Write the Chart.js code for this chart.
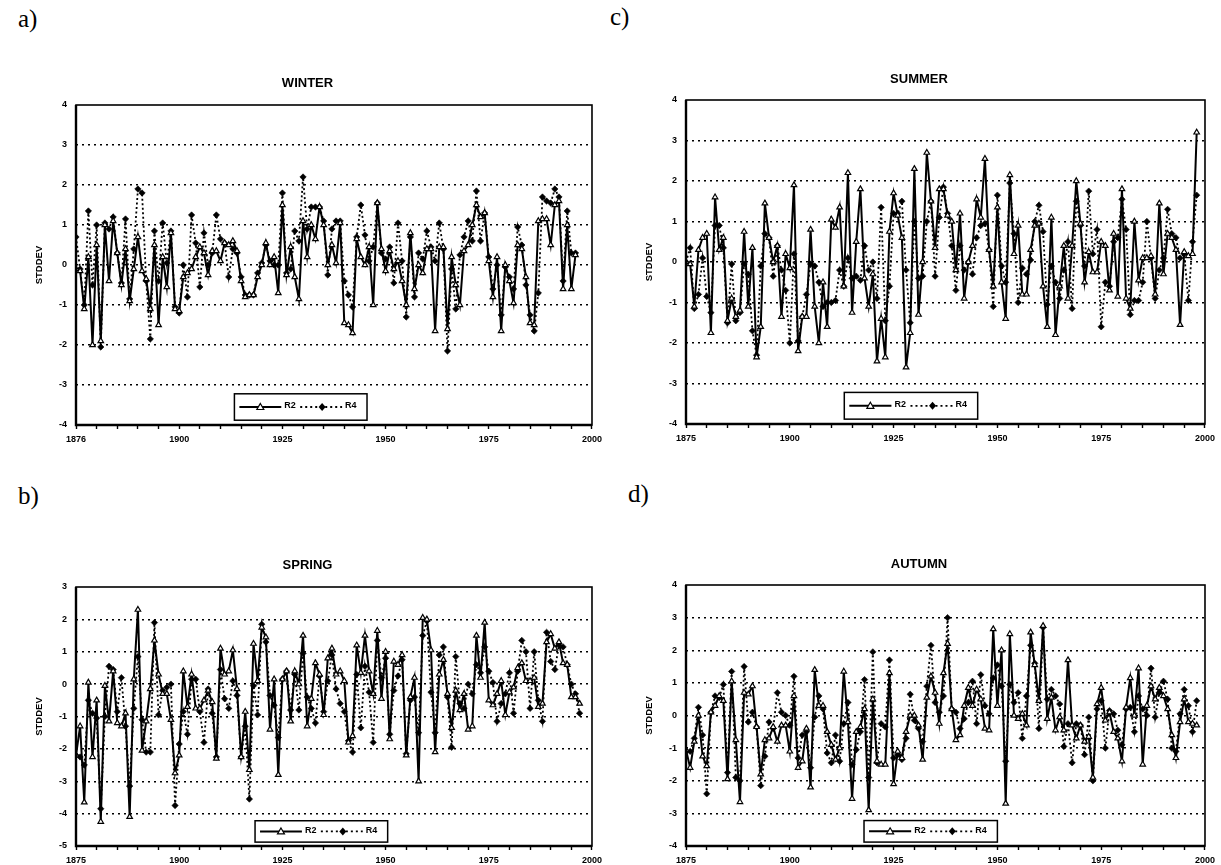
<!DOCTYPE html>
<html>
<head>
<meta charset="utf-8">
<script src="https://cdn.jsdelivr.net/npm/chart.js@4.4.0/dist/chart.umd.min.js"></script>
<style>
body { margin: 0; background: #fff; width: 1221px; height: 865px; overflow: hidden; position: relative; }
.letra { position: absolute; font-family: "Liberation Serif", serif; font-size: 25px; color: #000; }
.panel { position: absolute; }
</style>
</head>
<body>
<div class="letra" style="left:18px;top:5px">a)</div>
<div class="letra" style="left:610px;top:3px">c)</div>
<div class="letra" style="left:18px;top:482px">b)</div>
<div class="letra" style="left:628px;top:480px">d)</div>

<script>
// años: todas las series empiezan en 1875, un valor por año
var anioInicio = 1875;
var nombresSeries = ['R2', 'R4'];
var ticksNormal = ['1875', '1900', '1925', '1950', '1975', '2000'];
var ticksInvierno = ['1876', '1900', '1925', '1950', '1975', '2000'];

var winterR2 = [
  -0.1, -0.15, -1.1, 0.2, -2.0, 0.5, -1.9, 1.0, -0.4, 1.1,
  0.3, -0.5, 0.4, -0.9, -0.1, 0.7, -0.15, -0.35, -1.1, 0.5,
  -1.5, 0.2, -0.55, 0.8, -1.1, -1.15, -0.3, -0.2, -0.1, 0.2,
  0.45, 0.3, -0.25, 0.35, 0.35, 0.1, 0.55, 0.5, 0.6, 0.35,
  -0.4, -0.8, -0.75, -0.75, -0.3, 0.0, 0.55, 0.0, 0.2, -0.7,
  1.5, -0.25, 0.45, -0.3, -0.85, 1.1, 0.2, 1.0, 0.65, 1.45,
  1.0, 0.0, 0.5, 0.05, 1.05, -1.45, -1.5, -1.7, 0.65, 0.2,
  0.0, 0.45, -1.0, 1.55, 0.4, -0.15, 0.35, -0.1, 0.1, -0.4,
  -1.0, 0.8, -0.6, 0.0, -0.2, 0.4, 0.4, -1.65, 0.45, 0.45,
  -1.6, 0.2, -0.5, -1.0, 0.35, 0.5, 1.0, 1.5, 1.2, 1.3,
  0.1, -0.8, 0.2, -1.65, 0.0, -0.4, -0.95, 0.5, 0.4, -0.3,
  -1.45, -1.5, 1.1, 1.15, 1.15, 0.5, 1.5, 1.6, -0.6, 1.0,
  -0.6, 0.25
];
var winterR4 = [
  0.7, -0.1, -1.0, 1.35, -0.5, 1.0, -2.05, 1.05, 0.9, 1.2,
  0.3, -0.45, 1.15, -0.85, 0.4, 1.9, 1.8, -0.4, -1.85, 0.85,
  -0.4, 1.05, 0.05, 0.85, -1.05, -1.2, 0.0, -0.8, 1.25, 0.55,
  -0.55, 0.8, 0.0, 0.3, 1.25, 0.65, 0.55, -0.3, 0.4, 0.3,
  -0.3, -0.75, -0.75, -0.75, -0.2, 0.05, 0.5, 0.1, 0.0, 0.0,
  1.8, -0.2, -0.1, 0.85, 0.6, 2.2, 0.9, 1.45, 1.45, 1.45,
  1.1, -0.25, 0.9, 1.1, 1.1, -0.4, -0.75, -1.05, 0.7, 1.5,
  0.75, 0.1, 0.45, 1.55, 0.3, 0.15, 0.45, -0.45, 1.05, 0.1,
  -1.3, 0.7, -0.8, 0.3, 0.15, 0.85, 0.45, 0.1, 1.05, 0.4,
  -2.15, -0.1, -1.1, 0.25, 0.7, 1.1, 0.6, 1.85, 0.6, 1.3,
  0.2, -0.6, 0.0, -1.25, -0.05, -0.3, -0.6, 0.95, 0.5, -0.5,
  -1.25, -1.65, -0.7, 1.7, 1.6, 1.55, 1.9, 1.7, -0.4, 1.35,
  0.3, 0.3
];

var summerR2 = [
  0.0, -0.05, -1.1, 0.3, 0.6, 0.7, -1.75, 1.6, 0.3, 0.6,
  -1.45, -0.9, -1.35, -1.2, 0.75, -1.1, 0.35, -2.35, -1.6, 1.45,
  0.6, 0.0, 0.4, -1.35, 0.2, -0.15, 1.9, -2.2, -1.35, -1.35,
  0.8, -1.1, -2.0, -0.5, -1.6, 1.05, 0.85, 1.35, -0.6, 2.2,
  -1.25, 0.5, 1.8, -0.4, -1.1, -0.3, -2.45, -1.4, -2.35, 0.75,
  1.7, 1.15, 0.6, -2.6, -1.75, 2.3, -1.3, 0.0, 2.7, 1.5,
  0.35, 1.8, 1.8, 1.15, 1.0, -0.2, 1.2, -0.9, 0.0, 0.4,
  1.55, 1.1, 2.55, 0.3, -0.6, 1.35, -0.5, -1.4, 2.15, 0.2,
  0.9, -0.8, -0.8, 0.3, 0.9, 0.95, -0.6, -1.6, 1.1, -1.8,
  -0.6, 0.4, -0.9, 0.4, 2.0, 0.95, -0.5, 0.25, -0.25, -0.25,
  0.5, 0.4, -0.7, 0.7, -0.85, 1.8, -0.9, -1.15, 1.0, -0.45,
  0.1, 0.1, 0.15, -0.8, 1.45, -0.3, 0.7, 0.6, 0.3, -1.55,
  0.25, 0.15, 0.2, 3.2
];
var summerR4 = [
  0.0, 0.35, -1.15, -0.8, 0.1, -0.85, -1.25, 0.9, 0.9, 0.35,
  -1.5, -0.05, -1.45, -1.25, -0.05, -0.3, -1.7, -2.3, -0.1, 0.7,
  0.6, -0.35, 0.4, -0.2, -0.7, -2.0, 0.2, -1.95, -1.35, -0.8,
  -0.05, -0.1, -0.5, -1.1, -1.0, -1.0, -0.95, -0.2, -0.6, 0.1,
  -0.4, -0.35, -0.45, 0.4, -0.2, 0.0, -0.9, 1.35, -1.45, -0.6,
  1.2, 1.2, 1.5, -0.2, -1.5, 1.0, -0.4, -0.35, 1.0, 1.5,
  -0.35, 1.1, 1.85, 1.2, 0.4, -0.7, 0.4, -0.2, 0.0, -0.3,
  0.6, 0.9, 0.95, 0.3, -1.1, 1.65, -0.1, -0.5, 1.95, 0.7,
  -1.0, -0.15, -0.3, 0.05, 1.0, 1.4, 0.75, -1.05, -0.1, -0.5,
  -0.9, -0.2, 0.5, -1.15, 1.5, 0.9, -0.1, 1.75, 0.2, 0.8,
  -1.6, -0.5, -0.6, 0.5, 0.6, 1.55, 0.8, -1.3, -0.95, -0.95,
  -0.5, 1.0, 0.1, -0.9, -0.2, 0.1, 1.3, 0.7, 0.6, 0.1,
  0.2, -0.95, 0.5, 1.65
];

var springR2 = [
  -2.2, -1.3, -3.65, 0.05, -2.25, -0.5, -4.25, -0.05, -1.15, 0.4,
  -1.2, -1.3, -0.9, -4.1, 0.15, 2.3, -2.05, -1.15, -0.15, 1.35,
  0.3, -0.3, -0.3, -1.1, -2.75, -2.2, 0.4, -0.7, 0.3, -0.75,
  -0.75, -0.5, -0.2, -0.55, -2.3, 1.1, 0.3, 0.4, 1.05, -0.15,
  -2.25, -0.85, -2.65, 1.25, 0.1, 1.75, 1.45, -1.4, 0.15, -2.8,
  0.15, 0.4, -1.15, 0.4, 0.0, 1.5, -1.3, -0.45, 0.65, 0.3,
  -0.95, 0.8, 1.1, 0.3, 0.4, 0.1, -1.8, -1.6, 1.2, 0.35,
  1.5, 0.4, -0.3, 1.65, -0.45, 1.0, -1.7, 0.7, 0.6, 0.9,
  -2.2, -0.4, 0.2, -3.0, 2.05, 2.0, 1.05, -2.1, 0.3, 0.75,
  -0.3, -1.35, -0.2, -0.8, -0.3, -1.4, -1.3, 1.5, 0.2, 1.9,
  -0.5, -0.65, -0.3, 0.1, -0.95, -0.25, -0.1, 0.5, 0.65, 0.1,
  0.1, 0.2, -0.7, -0.6, 1.3, 1.55, 1.1, 1.3, 0.65, 0.6,
  -0.4, -0.4, -0.6
];
var springR4 = [
  -2.2, -2.25, -2.5, -0.5, -0.9, -1.05, -3.85, -1.0, 0.55, 0.45,
  -0.85, 0.2, -1.3, -3.15, -0.75, 0.85, -1.1, -2.1, -2.1, 1.9,
  -0.95, -0.2, -0.1, 0.0, -3.75, -1.85, -0.85, -1.55, 0.15, 0.15,
  -0.85, -1.8, -0.15, -0.9, -2.25, 0.45, -0.45, -0.75, 0.1, -0.35,
  -2.25, -1.3, -3.55, -0.05, -0.95, 1.85, 1.3, -0.35, -0.65, -1.65,
  0.15, 0.4, -0.8, 0.3, -0.8, 0.95, -0.4, -0.75, -1.2, 0.25,
  -0.85, 0.1, 0.9, -0.15, -0.6, -0.85, -1.75, -2.1, 0.3, -1.35,
  0.55, -0.25, -1.8, 1.35, 0.2, 0.8, -1.55, -0.2, 0.25, 0.75,
  -2.15, -0.5, -0.4, -1.5, 1.5, 1.95, -0.25, -1.5, 0.9, 1.15,
  -0.4, -1.95, 0.85, -0.6, -0.75, 0.0, -0.3, 0.6, 0.35, 1.15,
  0.4, 0.05, -1.15, -0.6, -0.3, 0.35, -0.9, 0.4, 1.35, 1.0,
  -0.75, 1.0, -0.5, -1.15, 1.6, 0.7, 0.45, 1.2, 1.15, 0.6,
  0.0, -0.3, -0.9
];

var autumnR2 = [
  -1.05, -1.6, -0.8, 0.0, -1.25, -1.55, 0.1, 0.3, 0.6, 0.45,
  -1.95, 1.05, -0.75, -2.65, 0.7, 0.65, 0.9, -0.35, -1.8, -0.75,
  -0.7, -0.35, -0.8, -0.3, -0.3, -1.1, 0.6, -1.6, -1.4, -0.4,
  -2.2, 1.4, 0.3, 0.3, -0.5, -0.9, -1.35, -1.0, 1.35, -0.2,
  -2.55, -0.5, -0.35, 0.2, -2.9, 0.5, -1.4, -1.5, -1.5, 1.3,
  -2.1, -1.1, -1.3, -0.5, 0.0, 0.0, -0.3, -1.35, 0.55, 1.2,
  0.7, -0.25, 1.3, 2.2, 0.2, -0.75, -0.6, 0.3, 0.85, 0.3,
  0.8, 0.5, -0.4, -0.45, 2.65, 0.3, 2.0, -2.7, 2.5, 0.0,
  -0.1, 0.05, -0.3, 2.55, 1.55, 0.45, 2.75, -0.1, 0.55, -0.45,
  -0.05, -0.45, 1.7, -0.3, -0.7, -0.3, -0.8, -0.65, -1.9, 0.35,
  0.85, -0.15, 0.1, -0.5, -0.7, -1.4, 0.25, 1.15, 0.0, 1.45,
  -1.5, 0.3, 0.9, 0.5, 0.85, 0.6, 0.2, -0.6, -1.3, -0.2,
  0.5, -0.2, -0.25, -0.3
];
var autumnR4 = [
  -1.1, -1.1, -0.7, 0.25, -0.6, -2.4, 0.1, 0.6, 0.55, 0.95,
  -1.75, 1.35, -1.9, -2.0, 1.5, -0.2, 0.1, -0.35, -2.15, -1.25,
  -0.2, -0.4, 0.7, 0.1, 0.0, -0.3, 1.2, -1.3, -0.6, -0.5,
  -1.6, -0.05, 0.6, 0.2, -1.15, -1.45, -0.6, -1.4, -0.25, 0.4,
  -1.5, -1.05, -0.5, 1.1, -1.9, 1.95, -1.45, -0.25, -0.35, 1.7,
  -1.3, -1.2, -1.35, -0.7, 0.65, -0.15, -0.4, -0.8, 0.9, 2.15,
  0.4, 0.1, 0.6, 3.0, 0.2, 0.1, -0.4, -0.1, 0.4, 1.05,
  -0.25, 1.25, 0.3, 0.05, 1.15, 1.55, 0.9, -1.4, 0.95, 0.4,
  0.7, -0.7, 0.6, 2.15, 1.6, -0.4, 2.7, 0.5, 0.8, 0.6,
  0.35, -0.95, -0.25, -1.45, -0.25, -0.3, -1.2, -0.05, -2.0, 0.2,
  0.45, -1.0, 0.15, 0.05, -0.45, -0.9, 0.2, 0.25, -0.5, 0.6,
  0.2, 0.0, 1.45, -0.05, 0.7, 1.05, 0.5, -1.0, -1.1, 0.05,
  0.8, 0.3, -0.5, 0.45
];

// marco negro alrededor del área de trazado
var marco = {
  id: 'marco',
  afterDraw: function(chart) {
    var a = chart.chartArea, ctx = chart.ctx;
    ctx.save();
    ctx.strokeStyle = '#000';
    ctx.lineWidth = 1.6;
    ctx.strokeRect(a.left, a.top, a.right - a.left, a.bottom - a.top);
    ctx.lineWidth = 2.4;
    ctx.beginPath();
    ctx.moveTo(a.left, a.top);
    ctx.lineTo(a.left, a.bottom);
    ctx.lineTo(a.right, a.bottom);
    ctx.stroke();
    ctx.restore();
  }
};

// leyenda en recuadro dentro del gráfico, abajo al centro
var leyendaCaja = {
  id: 'leyendaCaja',
  afterDraw: function(chart, args, opts) {
    var a = chart.chartArea, ys = chart.scales.y, ctx = chart.ctx;
    var w = 0.257 * (a.right - a.left);
    var x0 = a.left + opts.fx * (a.right - a.left);
    var y0 = ys.getPixelForValue(opts.ymin + 0.78);
    var y1 = ys.getPixelForValue(opts.ymin + 0.12);
    var ym = (y0 + y1) / 2;
    var s = w / 133;
    ctx.save();
    ctx.fillStyle = '#fff';
    ctx.fillRect(x0, y0, w, y1 - y0);
    ctx.strokeStyle = '#000';
    ctx.lineWidth = 1.5;
    ctx.strokeRect(x0, y0, w, y1 - y0);

    // R2: línea continua con triángulo
    ctx.lineWidth = 2;
    ctx.setLineDash([]);
    ctx.beginPath();
    ctx.moveTo(x0 + 5 * s, ym);
    ctx.lineTo(x0 + 47 * s, ym);
    ctx.stroke();
    var tx = x0 + 26 * s;
    ctx.fillStyle = '#fff';
    ctx.lineWidth = 1.2;
    ctx.beginPath();
    ctx.moveTo(tx, ym - 3.5);
    ctx.lineTo(tx + 3.5, ym + 2.5);
    ctx.lineTo(tx - 3.5, ym + 2.5);
    ctx.closePath();
    ctx.fill();
    ctx.stroke();

    // R4: línea punteada con rombo
    ctx.lineWidth = 1.8;
    ctx.setLineDash([2, 3]);
    ctx.beginPath();
    ctx.moveTo(x0 + 66 * s, ym);
    ctx.lineTo(x0 + 108 * s, ym);
    ctx.stroke();
    ctx.setLineDash([]);
    var dx = x0 + 88 * s;
    ctx.fillStyle = '#000';
    ctx.beginPath();
    ctx.moveTo(dx, ym - 4);
    ctx.lineTo(dx + 3.5, ym);
    ctx.lineTo(dx, ym + 4);
    ctx.lineTo(dx - 3.5, ym);
    ctx.closePath();
    ctx.fill();

    ctx.fillStyle = '#000';
    ctx.font = 'bold 9px "Liberation Sans", Arial, sans-serif';
    ctx.textBaseline = 'middle';
    ctx.fillText(nombresSeries[0], x0 + 50 * s, ym - 1);
    ctx.fillText(nombresSeries[1], x0 + 111 * s, ym - 1);
    ctx.restore();
  }
};

function aPuntos(valores) {
  return valores.map(function(v, i) { return { x: anioInicio + i, y: v }; });
}

var paneles = [
  { id: 'cA', titulo: 'WINTER', L: 76, T: 105, R: 595, B: 425, gap: 22, ymin: -4, ymax: 4, r2: winterR2, r4: winterR4, ticks: ticksInvierno, fx: 0.307 },
  { id: 'cC', titulo: 'SUMMER', L: 686, T: 100, R: 1208, B: 424, gap: 21, ymin: -4, ymax: 4, r2: summerR2, r4: summerR4, ticks: ticksNormal, fx: 0.305 },
  { id: 'cB', titulo: 'SPRING', L: 76, T: 587, R: 595, B: 846, gap: 22, ymin: -5, ymax: 3, r2: springR2, r4: springR4, ticks: ticksNormal, fx: 0.347 },
  { id: 'cD', titulo: 'AUTUMN', L: 686, T: 585, R: 1208, B: 846, gap: 21, ymin: -4, ymax: 4, r2: autumnR2, r4: autumnR4, ticks: ticksNormal, fx: 0.343 }
];

var fuente = '"Liberation Sans", Arial, sans-serif';

paneles.forEach(function(p) {
  var caja = document.createElement('div');
  caja.className = 'panel';
  caja.style.left = (p.L - 56) + 'px';
  caja.style.top = (p.T - 40) + 'px';
  caja.style.width = (p.R - p.L + 68) + 'px';
  caja.style.height = (p.B - p.T + 62) + 'px';
  var lienzo = document.createElement('canvas');
  lienzo.id = p.id;
  caja.appendChild(lienzo);
  document.body.appendChild(caja);

  var padTitulo = 40 - p.gap - 7.8;

  new Chart(lienzo.getContext('2d'), {
    type: 'line',
    data: {
      datasets: [{
        label: nombresSeries[0],
        data: aPuntos(p.r2),
        borderColor: '#000',
        borderWidth: 2,
        pointStyle: 'triangle',
        pointRadius: 3.2,
        pointBackgroundColor: '#fff',
        pointBorderColor: '#000',
        pointBorderWidth: 1.2,
        tension: 0,
        fill: false
      }, {
        label: nombresSeries[1],
        data: aPuntos(p.r4),
        borderColor: '#000',
        borderWidth: 1.8,
        borderDash: [2, 2.5],
        pointStyle: 'rectRot',
        pointRadius: 3.2,
        pointBackgroundColor: '#000',
        pointBorderColor: '#000',
        pointBorderWidth: 0.6,
        tension: 0,
        fill: false
      }]
    },
    options: {
      responsive: true,
      maintainAspectRatio: false,
      animation: false,
      layout: { padding: { left: 0, right: 12, top: 0, bottom: 0 } },
      plugins: {
        legend: { display: false },
        tooltip: { enabled: false },
        title: {
          display: true,
          text: p.titulo,
          color: '#000',
          font: { family: fuente, size: 13, weight: 'bold' },
          padding: { top: padTitulo, bottom: 40 - padTitulo - 15.6 }
        },
        leyendaCaja: { fx: p.fx, ymin: p.ymin }
      },
      scales: {
        x: {
          type: 'linear',
          min: 1875,
          max: 2000,
          afterFit: function(sc) { sc.height = 22; },
          ticks: {
            stepSize: 5,
            autoSkip: false,
            maxRotation: 0,
            padding: 5,
            color: '#000',
            font: { family: fuente, size: 9, weight: 'bold' },
            callback: function(v) {
              var k = (v - 1875) / 25;
              return Number.isInteger(k) ? p.ticks[k] : '';
            }
          },
          grid: { drawOnChartArea: false, drawTicks: true, tickLength: 4, color: '#000', tickWidth: 1.4 },
          border: { display: false }
        },
        y: {
          type: 'linear',
          min: p.ymin,
          max: p.ymax,
          afterFit: function(sc) { sc.width = 56; },
          ticks: {
            stepSize: 1,
            padding: 9,
            color: '#000',
            font: { family: fuente, size: 9, weight: 'bold' }
          },
          grid: {
            drawTicks: false,
            lineWidth: 1.5,
            color: function(c) {
              if (!c.tick) return '#000';
              return (c.tick.value === p.ymin || c.tick.value === p.ymax) ? 'rgba(0,0,0,0)' : '#000';
            }
          },
          border: { display: false, dash: [2, 4] },
          title: {
            display: true,
            text: 'STDDEV',
            color: '#000',
            font: { family: fuente, size: 9.5, weight: 'bold' },
            padding: { top: 14, bottom: 0 }
          }
        }
      }
    },
    plugins: [marco, leyendaCaja]
  });
});
</script>
</body>
</html>
